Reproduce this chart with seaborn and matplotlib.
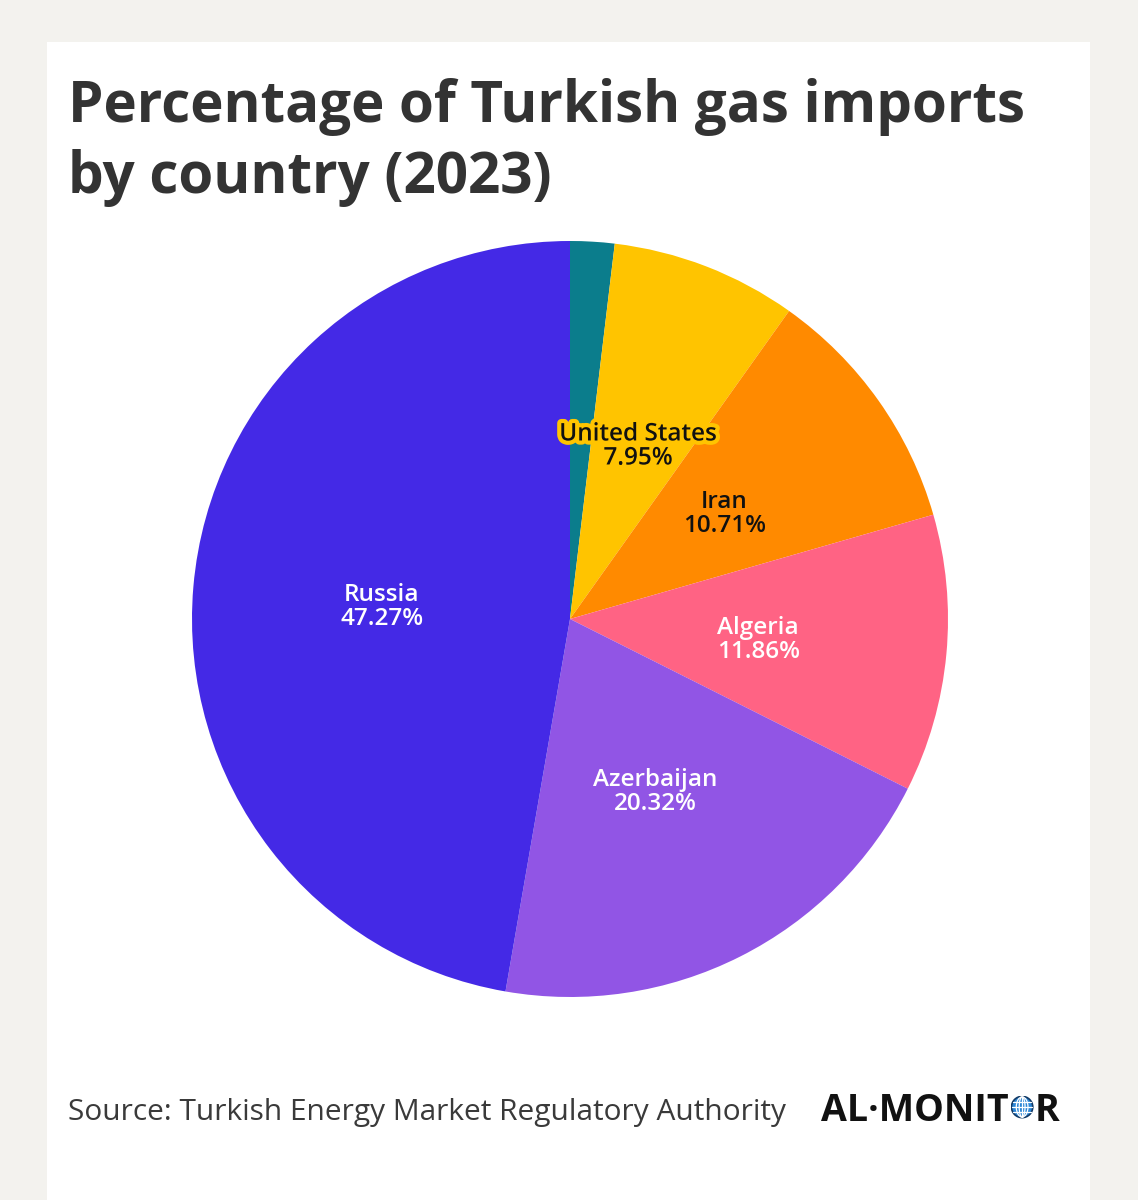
import matplotlib
matplotlib.use("Agg")
import matplotlib.pyplot as plt
import matplotlib.patches as mpatches
import matplotlib.patheffects as pe
import numpy as np
import seaborn as sns

# ---- data ----
countries = ["Other", "United States", "Iran", "Algeria", "Azerbaijan", "Russia"]
shares = [1.89, 7.95, 10.71, 11.86, 20.32, 47.27]
show_label = [False, True, True, True, True, True]
slice_colors = ["#0b7d8c", "#ffc400", "#ff8a00", "#ff6384", "#9155e5", "#4429e6"]
label_colors = ["white", "#111111", "#111111", "white", "white", "white"]
title_lines = ["Percentage of Turkish gas imports", "by country (2023)"]
source_text = "Source: Turkish Energy Market Regulatory Authority"

sns.set_theme(style="white")
plt.rcParams["font.family"] = ["Open Sans", "DejaVu Sans"]

W, H = 1138, 1200
fig = plt.figure(figsize=(W / 100, H / 100), dpi=100)
fig.patch.set_facecolor("#f3f2ee")

def fx(px):
    return px / W

def fy(py):
    return 1 - py / H

# white card
fig.patches.append(mpatches.Rectangle((fx(47), 0), fx(1090) - fx(47), fy(42),
                                      transform=fig.transFigure, facecolor="white",
                                      edgecolor="none", zorder=-5))

# title
fig.text(fx(68), fy(122), title_lines[0], fontsize=40.7, fontweight="bold",
         color="#333333", va="baseline", ha="left")
fig.text(fx(68), fy(193), title_lines[1], fontsize=40.7, fontweight="bold",
         color="#333333", va="baseline", ha="left")

# pie
cx, cy, r = 570, 619, 378
ax = fig.add_axes([fx(cx - r), fy(cy + r), (2 * r) / W, (2 * r) / H])
ax.set_zorder(2)
wedges, _ = ax.pie(shares, colors=slice_colors, startangle=90, counterclock=False,
                   wedgeprops=dict(linewidth=0), radius=1.0)
ax.set_xlim(-1, 1)
ax.set_ylim(-1, 1)
ax.set_aspect("auto")
ax.axis("off")

for w, name, val, show, lc in zip(wedges, countries, shares, show_label, label_colors):
    if not show:
        continue
    ang = np.deg2rad((w.theta1 + w.theta2) / 2)
    x, y = 0.5 * np.cos(ang), 0.5 * np.sin(ang)
    txt = ax.text(x, y - 0.01, f"{name}\n{val:.2f}%", ha="center", va="center",
                  fontsize=17.5, fontweight="semibold", color=lc, linespacing=1.0)
    if name == "United States":
        txt.set_path_effects([pe.withStroke(linewidth=6, foreground="#ffc400")])

# source
fig.text(fx(68), fy(1120), source_text, fontsize=21.5, color="#3a3a3a",
         va="baseline", ha="left")

# logo
logo1 = fig.text(fx(821), fy(1121), "AL·MONIT", fontsize=27, fontweight="bold",
                 color="#111111", va="baseline", ha="left")
fig.canvas.draw()
bb = logo1.get_window_extent()
gr = 11.5
gx = bb.x1 + 2 + gr
gy = (H - 1107)
gax = fig.add_axes([(gx - gr) / W, (gy - gr) / H, 2 * gr / W, 2 * gr / H])
gax.set_zorder(3)
gax.set_xlim(-1.08, 1.08)
gax.set_ylim(-1.08, 1.08)
gax.axis("off")
gax.add_patch(mpatches.Circle((0, 0), 1, facecolor="#2b86d6", edgecolor="#123a66", lw=1.2))
for e in [0.55, 1.1]:
    gax.add_patch(mpatches.Ellipse((0, 0), e, 1.9, facecolor="none", edgecolor="white", lw=0.9))
gax.plot([0, 0], [-0.95, 0.95], color="white", lw=0.9)
for yy in [-0.5, 0, 0.5]:
    hw = np.sqrt(1 - yy ** 2) * 0.95
    gax.plot([-hw, hw], [yy, yy], color="white", lw=0.9)
fig.text((gx + gr + 1) / W, fy(1121), "R", fontsize=27, fontweight="bold",
         color="#111111", va="baseline", ha="left")

fig.savefig("out.png", dpi=100, facecolor=fig.get_facecolor())
